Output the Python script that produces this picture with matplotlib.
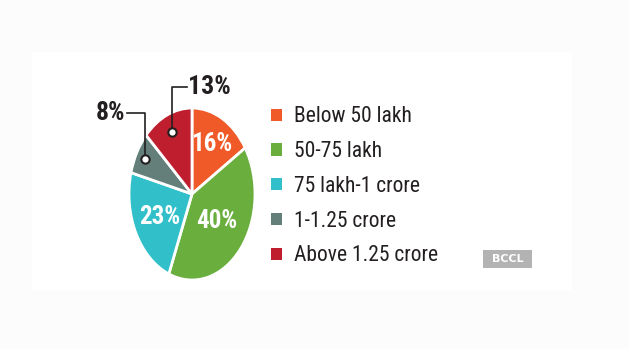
import numpy as np
import matplotlib
matplotlib.use("Agg")
import matplotlib.pyplot as plt
from matplotlib import font_manager as fm
from matplotlib.patches import Rectangle

categories = ["Below 50 lakh", "50-75 lakh", "75 lakh-1 crore", "1-1.25 crore", "Above 1.25 crore"]
shares = [16, 40, 23, 8, 13]
colors = ["#F05A28", "#6AAE3E", "#31BFC9", "#647F7A", "#BF1E2E"]

def pick(fams):
    for f in fams:
        try:
            fm.findfont(fm.FontProperties(family=f), fallback_to_default=False)
            return f
        except Exception:
            pass
    return "DejaVu Sans"

narrow = pick(["Liberation Sans Narrow", "DejaVu Sans Condensed", "Roboto Condensed", "Liberation Sans"])

W, H = 629, 349
fig = plt.figure(figsize=(W/100, H/100), dpi=100, facecolor="#fcfcfc")
fig.patches.append(Rectangle((32/W, (H-290)/H), 540/W, 238/H, transform=fig.transFigure,
                             facecolor="white", edgecolor="none", zorder=-10))

cx, cy, rx, ry = 192, 194, 63, 86
ax = fig.add_axes([(cx-rx)/W, (H-cy-ry)/H, 2*rx/W, 2*ry/H])
ax.set_zorder(2)
ax.patch.set_alpha(0)
wedges, _ = ax.pie(shares, colors=colors, startangle=90, counterclock=False,
                   wedgeprops=dict(edgecolor="white", linewidth=2.0))
ax.set_xlim(-1, 1); ax.set_ylim(-1, 1)
ax.set_aspect("auto")
ax.axis("off")

def mid(w):
    return np.deg2rad((w.theta1 + w.theta2) / 2)

# in-slice labels
inner = {0: 0.66, 1: 0.50, 2: 0.58}
for i, r in inner.items():
    a = mid(wedges[i])
    ax.text(r*np.cos(a), r*np.sin(a), f"{shares[i]}%", color="white", fontsize=18,
            fontweight="bold", family=narrow, ha="center", va="center")

# callouts
def callout(i, r, ytop, xend, ha):
    a = mid(wedges[i])
    px, py = r*np.cos(a), r*np.sin(a)
    ax.plot([px, px, xend], [py, ytop, ytop], color="#231f20", lw=1.2, clip_on=False, zorder=5)
    ax.plot([px], [py], marker="o", ms=6, mfc="white", mec="#231f20", mew=1.5, clip_on=False, zorder=6)
    ax.text(xend + (0.02 if ha == "left" else -0.03), ytop, f"{shares[i]}%", color="#231f20",
            fontsize=18.5, fontweight="bold", family=narrow, ha=ha, va="center", clip_on=False)

callout(4, 0.78, 1.244, -0.08, "left")
callout(3, 0.85, 0.94, -1.03, "right")

leg = fig.legend(wedges, categories, loc="upper left", bbox_to_anchor=(252/W, (H-87)/H),
                 frameon=False, handlelength=0.5, handleheight=0.5, handletextpad=0.55,
                 labelspacing=0.64, prop=dict(family=narrow, size=15.5))
for t in leg.get_texts():
    t.set_color("#231f20")
for h in leg.legend_handles:
    h.set_edgecolor("none")

fig.patches.append(Rectangle((483/W, (H-268)/H), 49/W, 18/H, transform=fig.transFigure,
                             facecolor="#b3b3b3", edgecolor="none"))
fig.text(507.5/W, (H-259)/H, "BCCL", color="white", fontsize=8, fontweight="bold",
         ha="center", va="center", family="DejaVu Sans")

fig.savefig("out.png", dpi=100, facecolor=fig.get_facecolor())
